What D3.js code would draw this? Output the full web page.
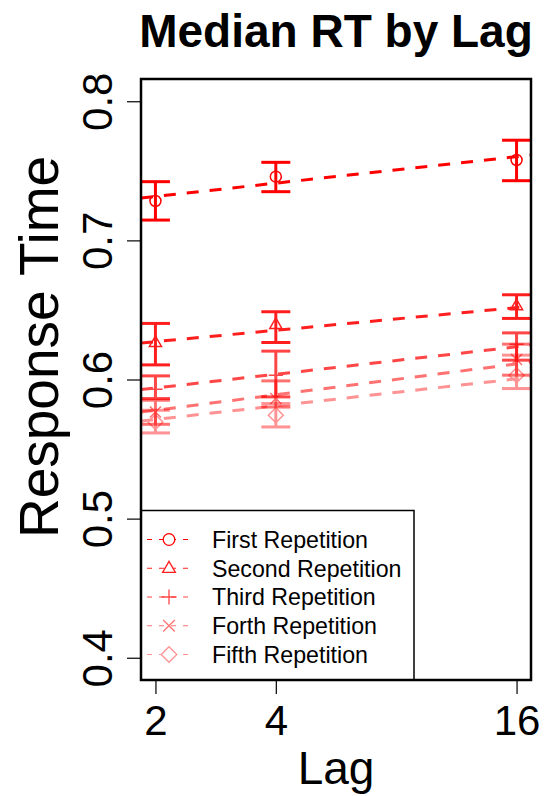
<!DOCTYPE html>
<meta charset="utf-8">
<script src="https://d3js.org/d3.v7.js"></script>
<style>
  body { margin: 0; background: #fff; }
  text { font-family: "Liberation Sans", Arial, sans-serif; }
</style>
<div id="chart"></div>
<script>

// lags and their tick labels
var lags = [2, 4, 16];
var lagLabels = ["2", "4", "16"];
var yTicks = [0.4, 0.5, 0.6, 0.7, 0.8];

var seriesNames = ["First Repetition", "Second Repetition", "Third Repetition", "Forth Repetition", "Fifth Repetition"];
var seriesShapes = ["circle", "triangle", "plus", "cross", "diamond"];

// median RT at lag 2, 4, 16 for each repetition
var median1 = [0.7283, 0.7458, 0.7578];
var median2 = [0.6266, 0.6396, 0.6530];
var median3 = [0.5930, 0.6030, 0.6254];
var median4 = [0.5767, 0.5863, 0.6144];
var median5 = [0.5695, 0.5743, 0.6031];

// error bar bounds
var lower1 = [0.7146, 0.7350, 0.7429];
var upper1 = [0.7422, 0.7561, 0.7720];
var lower2 = [0.6105, 0.6266, 0.6439];
var upper2 = [0.6403, 0.6487, 0.6609];
var lower3 = [0.5863, 0.5875, 0.6139];
var upper3 = [0.6026, 0.6204, 0.6335];
var lower4 = [0.5678, 0.5802, 0.6031];
var upper4 = [0.5851, 0.5990, 0.6254];
var lower5 = [0.5616, 0.5659, 0.5935];
var upper5 = [0.5779, 0.5827, 0.6175];

// fitted line values at lag 2 and lag 16
var fitAt2 = [0.7316, 0.6272, 0.5939, 0.5779, 0.5713];
var fitAt16 = [0.7602, 0.6517, 0.6235, 0.6112, 0.6005];

var opacities = [1, 0.88, 0.72, 0.55, 0.42];

var medians = [median1, median2, median3, median4, median5];
var lowers = [lower1, lower2, lower3, lower4, lower5];
var uppers = [upper1, upper2, upper3, upper4, upper5];

var series = seriesNames.map(function(name, i) {
  return {
    name: name, shape: seriesShapes[i], opacity: opacities[i],
    fit: [fitAt2[i], fitAt16[i]],
    points: lags.map(function(l, j) {
      return {lag: l, m: medians[i][j], lo: lowers[i][j], hi: uppers[i][j]};
    })
  };
});

var width = 545, height = 796;
var box = {left: 141, right: 531, top: 79, bottom: 680};

var svg = d3.select("#chart").append("svg")
  .attr("width", width)
  .attr("height", height);

// x is log2 of lag, R-style 4% padding
var x = d3.scaleLinear().domain([0.88, 4.12]).range([box.left, box.right]);
var y = d3.scaleLinear().domain([0.384, 0.816]).range([box.bottom, box.top]);

svg.append("defs").append("clipPath").attr("id", "plotclip")
  .append("rect")
    .attr("x", box.left).attr("y", box.top)
    .attr("width", box.right - box.left).attr("height", box.bottom - box.top);

// axes
var xAxis = d3.axisBottom(x)
  .tickValues(lags.map(function(l) { return Math.log2(l); }))
  .tickFormat(function(d, i) { return lagLabels[i]; })
  .tickSizeInner(14).tickSizeOuter(0).tickPadding(6);

svg.append("g")
  .attr("transform", "translate(0," + box.bottom + ")")
  .call(xAxis)
  .call(function(g) {
    g.select(".domain").remove();
    g.selectAll("line").attr("stroke", "#000").attr("stroke-width", 1.2);
    g.selectAll("text").attr("font-size", 42).attr("fill", "#000").attr("dy", null).attr("y", 55);
  });

var yAxis = d3.axisLeft(y)
  .tickValues(yTicks)
  .tickFormat(d3.format(".1f"))
  .tickSizeInner(14).tickSizeOuter(0);

svg.append("g")
  .attr("transform", "translate(" + box.left + ",0)")
  .call(yAxis)
  .call(function(g) {
    g.select(".domain").remove();
    g.selectAll("line").attr("stroke", "#000").attr("stroke-width", 1.2);
    g.selectAll("text")
      .attr("font-size", 42).attr("fill", "#000")
      .attr("x", null).attr("dy", null)
      .attr("text-anchor", "middle")
      .attr("transform", "translate(-29,0) rotate(-90)");
  });

var plot = svg.append("g").attr("clip-path", "url(#plotclip)");

function markerPath(shape, s) {
  if (shape === "circle") return d3.symbol(d3.symbolCircle, Math.PI * s * s)();
  if (shape === "triangle") {
    var h = s * 1.9;
    return "M0," + (-h * 0.62) + "L" + (s * 1.1) + "," + (h * 0.38) + "L" + (-s * 1.1) + "," + (h * 0.38) + "Z";
  }
  if (shape === "plus") return "M" + (-s * 1.3) + ",0H" + (s * 1.3) + "M0," + (-s * 1.3) + "V" + (s * 1.3);
  if (shape === "cross") return "M" + (-s) + "," + (-s) + "L" + s + "," + s + "M" + s + "," + (-s) + "L" + (-s) + "," + s;
  if (shape === "diamond") return "M0," + (-s * 1.35) + "L" + (s * 1.35) + ",0L0," + (s * 1.35) + "L" + (-s * 1.35) + ",0Z";
}

series.forEach(function(s) {
  var g = plot.append("g").attr("opacity", s.opacity);
  var col = "#ff0000";

  // fitted line through the whole box
  var x1 = Math.log2(lags[0]), x2 = Math.log2(lags[lags.length - 1]);
  var slope = (s.fit[1] - s.fit[0]) / (x2 - x1);
  var xd = x.domain();
  g.append("line")
    .attr("x1", x(xd[0])).attr("y1", y(s.fit[0] + slope * (xd[0] - x1)))
    .attr("x2", x(xd[1])).attr("y2", y(s.fit[0] + slope * (xd[1] - x1)))
    .attr("stroke", col).attr("stroke-width", 3)
    .attr("stroke-dasharray", "12,11");

  // error bars
  var eb = g.selectAll(".eb").data(s.points).join("g").attr("class", "eb");
  eb.append("line")
    .attr("x1", function(d) { return x(Math.log2(d.lag)); })
    .attr("x2", function(d) { return x(Math.log2(d.lag)); })
    .attr("y1", function(d) { return y(d.lo); })
    .attr("y2", function(d) { return y(d.hi); })
    .attr("stroke", col).attr("stroke-width", 3);
  ["lo", "hi"].forEach(function(k) {
    eb.append("line")
      .attr("x1", function(d) { return x(Math.log2(d.lag)) - 14.5; })
      .attr("x2", function(d) { return x(Math.log2(d.lag)) + 14.5; })
      .attr("y1", function(d) { return y(d[k]); })
      .attr("y2", function(d) { return y(d[k]); })
      .attr("stroke", col).attr("stroke-width", 3);
  });

  // points
  g.selectAll(".pt").data(s.points).join("path").attr("class", "pt")
    .attr("transform", function(d) { return "translate(" + x(Math.log2(d.lag)) + "," + y(d.m) + ")"; })
    .attr("d", markerPath(s.shape, 5.5))
    .attr("fill", "none").attr("stroke", col).attr("stroke-width", 1.5);
});

// legend
var legend = svg.append("g");
legend.append("rect")
  .attr("x", box.left).attr("y", 510.5)
  .attr("width", 414 - box.left).attr("height", box.bottom - 510.5)
  .attr("fill", "#fff").attr("stroke", "#000").attr("stroke-width", 1.5);

var ly = d3.scalePoint().domain(seriesNames).range([539.5, 654.5]);
series.forEach(function(s) {
  var row = legend.append("g").attr("transform", "translate(0," + ly(s.name) + ")");
  var g = row.append("g").attr("opacity", s.opacity);
  g.append("line").attr("x1", 147).attr("x2", 189).attr("y1", 0).attr("y2", 0)
    .attr("stroke", "#ff0000").attr("stroke-width", 1).attr("stroke-dasharray", "5,7");
  g.append("path").attr("transform", "translate(169,0)")
    .attr("d", markerPath(s.shape, 5.8))
    .attr("fill", "#fff").attr("stroke", "#ff0000").attr("stroke-width", 1.3);
  row.append("text").attr("x", 212).attr("y", 8.3)
    .attr("font-size", 23.2).attr("fill", "#000").text(s.name);
});

// box
svg.append("rect")
  .attr("x", box.left).attr("y", box.top)
  .attr("width", box.right - box.left).attr("height", box.bottom - box.top)
  .attr("fill", "none").attr("stroke", "#000").attr("stroke-width", 2.5);

// titles
svg.append("text")
  .attr("x", (box.left + box.right) / 2).attr("y", 47)
  .attr("text-anchor", "middle").attr("font-size", 46).attr("font-weight", "bold")
  .text("Median RT by Lag");

svg.append("text")
  .attr("x", (box.left + box.right) / 2).attr("y", 784)
  .attr("text-anchor", "middle").attr("font-size", 46)
  .text("Lag");

svg.append("text")
  .attr("transform", "translate(58,347) rotate(-90)")
  .attr("text-anchor", "middle").attr("font-size", 55)
  .text("Response Time");

</script>
